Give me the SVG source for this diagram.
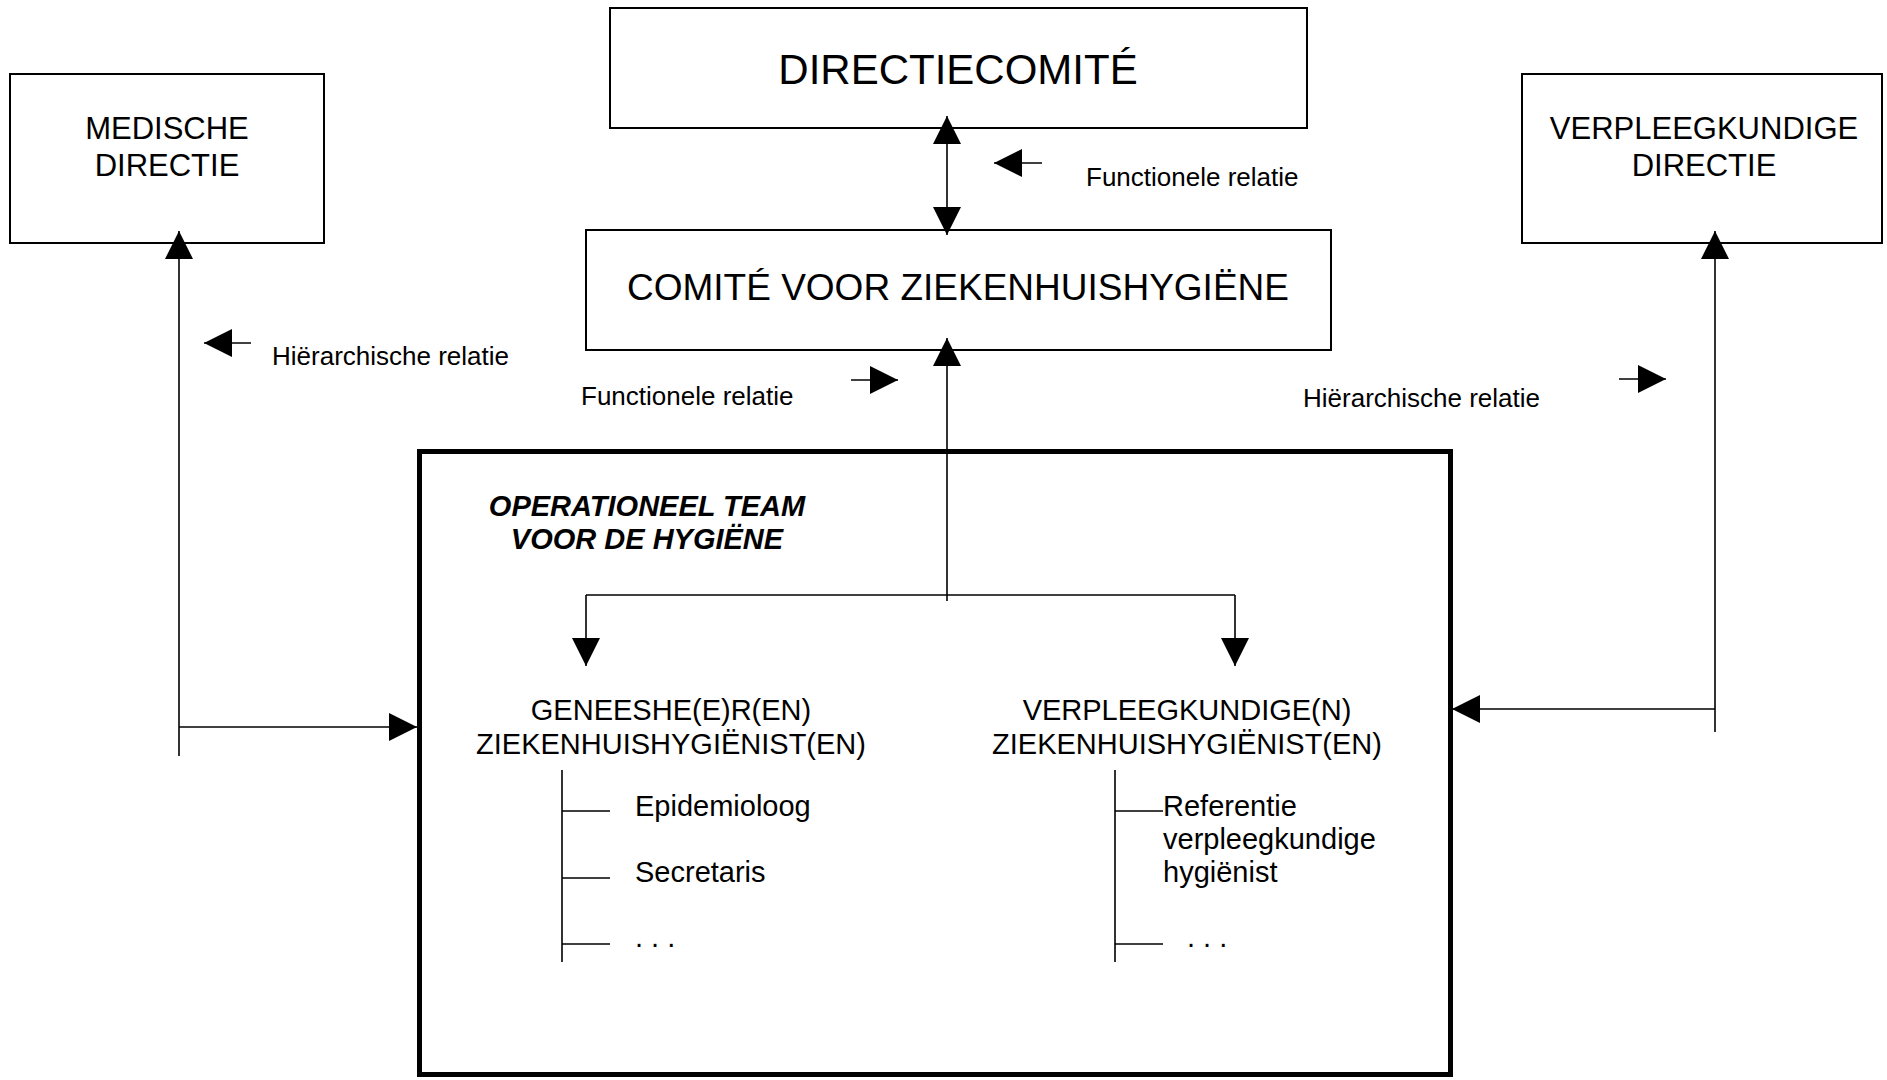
<svg xmlns="http://www.w3.org/2000/svg" width="1887" height="1080" viewBox="0 0 1887 1080">
<style>
text{font-family:"Liberation Sans",Arial,sans-serif;fill:#000}
.box{fill:#fff;stroke:#000;stroke-width:2}
.team{fill:#fff;stroke:#000;stroke-width:5}
.ln{fill:none;stroke:#000;stroke-width:1.6}
.ar{fill:none;stroke:#000;stroke-width:1.6;marker-end:url(#ah)}
.lbl{font-size:26px}
.mid{text-anchor:middle}
.sub{font-size:29px}
</style>
<defs>
<marker id="ah" markerUnits="userSpaceOnUse" markerWidth="28" markerHeight="28" viewBox="0 0 27 27" refX="27" refY="13.5" orient="auto-start-reverse">
<path d="M0,0 L27,13.5 L0,27 z" fill="#000"/>
</marker>
</defs>
<rect width="1887" height="1080" fill="#fff"/>
<g id="team">
<rect class="team" x="419.5" y="451.5" width="1031" height="623"/>
<text x="647" y="516" class="mid" style="font-size:29px;font-weight:bold;font-style:italic">OPERATIONEEL TEAM</text>
<text x="647" y="549" class="mid" style="font-size:29px;font-weight:bold;font-style:italic">VOOR DE HYGIËNE</text>
</g>
<g id="directiecomite">
<rect class="box" x="610" y="8" width="697" height="120"/>
<text x="958" y="84" class="mid" style="font-size:42px">DIRECTIECOMITÉ</text>
</g>
<g id="comite">
<rect class="box" x="586" y="230" width="745" height="120"/>
<text x="958" y="300" class="mid" style="font-size:37px">COMITÉ VOOR ZIEKENHUISHYGIËNE</text>
</g>
<g id="medische">
<rect class="box" x="10" y="74" width="314" height="169"/>
<text x="167" y="139" class="mid" style="font-size:31px">MEDISCHE</text>
<text x="167" y="176" class="mid" style="font-size:31px">DIRECTIE</text>
</g>
<g id="verpleeg">
<rect class="box" x="1522" y="74" width="360" height="169"/>
<text x="1704" y="139" class="mid" style="font-size:31px">VERPLEEGKUNDIGE</text>
<text x="1704" y="176" class="mid" style="font-size:31px">DIRECTIE</text>
</g>
<g id="geneesheer">
<text x="671" y="720" class="mid sub">GENEESHE(E)R(EN)</text>
<text x="671" y="754" class="mid sub">ZIEKENHUISHYGIËNIST(EN)</text>
<path class="ln" d="M562,770 V962 M562,811 H610 M562,878 H610 M562,944 H610"/>
<text x="635" y="816" class="sub">Epidemioloog</text>
<text x="635" y="882" class="sub">Secretaris</text>
<text x="635" y="947" class="sub">. . .</text>
</g>
<g id="verpleegkundige">
<text x="1187" y="720" class="mid sub">VERPLEEGKUNDIGE(N)</text>
<text x="1187" y="754" class="mid sub">ZIEKENHUISHYGIËNIST(EN)</text>
<path class="ln" d="M1115,770 V962 M1115,811 H1163 M1115,944 H1163"/>
<text x="1163" y="816" class="sub">Referentie</text>
<text x="1163" y="849" class="sub">verpleegkundige</text>
<text x="1163" y="882" class="sub">hygiënist</text>
<text x="1187" y="947" class="sub">. . .</text>
</g>
<g id="connectors">
<path class="ar" style="marker-start:url(#ah)" d="M947,116 V235"/>
<path class="ar" d="M947,601 V338"/>
<path class="ln" d="M586,595 H1235"/>
<path class="ar" d="M586,595 V666"/>
<path class="ar" d="M1235,595 V666"/>
<path class="ar" d="M179,756 V231"/>
<path class="ar" d="M179,727 H417"/>
<path class="ar" d="M1715,732 V231"/>
<path class="ar" d="M1715,709 H1452"/>
</g>
<g id="legend">
<path class="ar" d="M1042,163 H994"/>
<text x="1086" y="186" class="lbl">Functionele relatie</text>
<path class="ar" d="M251,343 H204"/>
<text x="272" y="365" class="lbl">Hiërarchische relatie</text>
<path class="ar" d="M851,380 H898"/>
<text x="581" y="405" class="lbl">Functionele relatie</text>
<path class="ar" d="M1619,379 H1666"/>
<text x="1303" y="407" class="lbl">Hiërarchische relatie</text>
</g>
</svg>
